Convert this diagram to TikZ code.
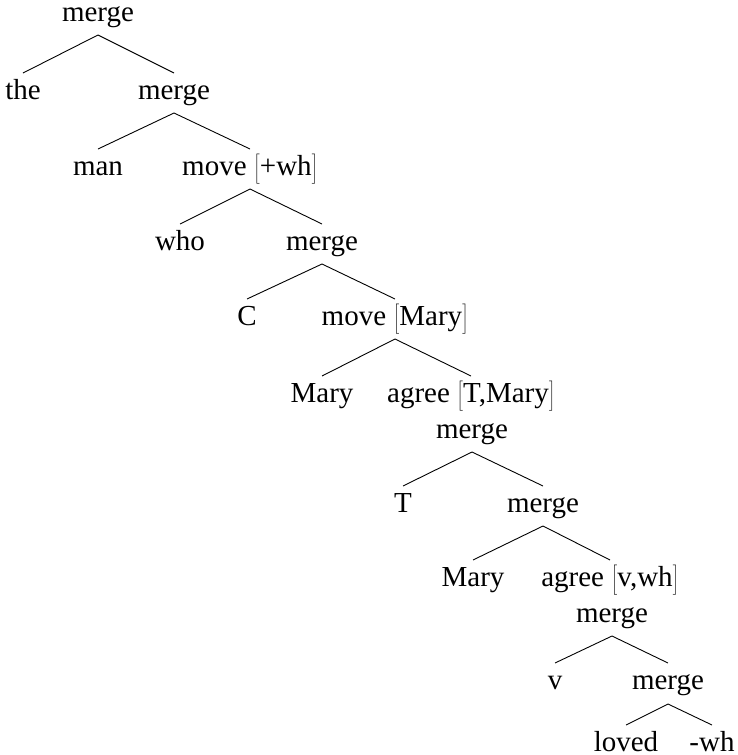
\documentclass[tikz,border=0pt]{standalone}
\usepackage{fontspec}
\setmainfont{Liberation Serif}
% tall, thin feature brackets
\newcommand\lbr{$\left[\vcenter{\hbox{\vrule width0pt height28pt}}\right.\kern-1pt$}
\newcommand\rbr{$\left.\vcenter{\hbox{\vrule width0pt height28pt}}\kern-1pt\right]$}
\begin{document}
\begin{tikzpicture}[x=1pt,y=-1pt,
  lbl/.style={anchor=base, inner sep=0pt, font=\fontsize{29}{34}\selectfont},
  branchline/.style={line width=0.9pt}]
\useasboundingbox (0,0) rectangle (738,755);
% labels, placed on their baselines
\node[lbl] (m0) at (98,21) {merge};
\node[lbl] (the) at (23,99) {the};
\node[lbl] (m1) at (174,99) {merge};
\node[lbl] (man) at (98,175) {man};
\node[lbl] (mv1) at (250,175) {move \lbr+wh\rbr};
\node[lbl] (who) at (180,250) {who};
\node[lbl] (m2) at (322,250) {merge};
\node[lbl] (C) at (247,325) {C};
\node[lbl] (mv2) at (395,325) {move \lbr Mary\rbr};
\node[lbl] (mary1) at (322,402) {Mary};
\node[lbl] (ag1) at (471,402) {agree \lbr T,Mary\rbr};
\node[lbl] (m3) at (472,438) {merge};
\node[lbl] (T) at (403,512) {T};
\node[lbl] (m4) at (543,512) {merge};
\node[lbl] (mary2) at (473,586) {Mary};
\node[lbl] (ag2) at (610,586) {agree \lbr v,wh\rbr};
\node[lbl] (m5) at (612,622) {merge};
\node[lbl] (v) at (555,689) {v};
\node[lbl] (m6) at (668,689) {merge};
\node[lbl] (loved) at (626,751) {loved};
\node[lbl] (wh) at (712,751) {-wh};
% branches from each mother to its daughters
\foreach \p/\c in {m0/the, m0/m1, m1/man, m1/mv1, mv1/who, mv1/m2,
                   m2/C, m2/mv2, mv2/mary1, mv2/ag1, m3/T, m3/m4,
                   m4/mary2, m4/ag2, m5/v, m5/m6}
  \draw[branchline] ([yshift=-14pt]\p.base) -- ([yshift=26pt]\c.base);
\foreach \c in {loved, wh}
  \draw[branchline] ([yshift=-15pt]m6.base) -- ([yshift=26pt]\c.base);
\end{tikzpicture}
\end{document}
